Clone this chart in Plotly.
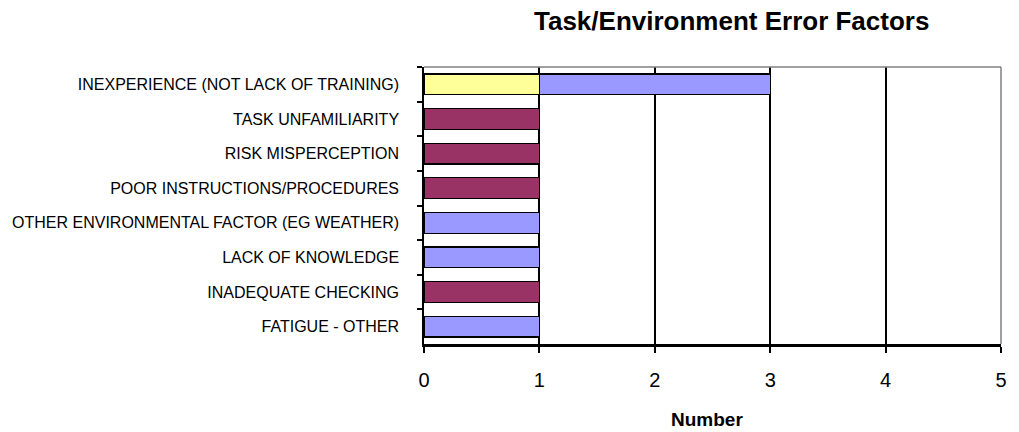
import plotly.graph_objects as go

categories = [
    "INEXPERIENCE (NOT LACK OF TRAINING)",
    "TASK UNFAMILIARITY",
    "RISK MISPERCEPTION",
    "POOR INSTRUCTIONS/PROCEDURES",
    "OTHER ENVIRONMENTAL FACTOR (EG WEATHER)",
    "LACK OF KNOWLEDGE",
    "INADEQUATE CHECKING",
    "FATIGUE - OTHER",
]
series_yellow = [1, 0, 0, 0, 0, 0, 0, 0]
series_maroon = [0, 1, 1, 1, 0, 0, 1, 0]
series_blue = [2, 0, 0, 0, 1, 1, 0, 1]
x_ticks = [0, 1, 2, 3, 4, 5]

FONT = "Liberation Sans, Arial, sans-serif"

fig = go.Figure()
for name, vals, color in [
    ("Series 1", series_yellow, "#FFFF99"),
    ("Series 2", series_maroon, "#993366"),
    ("Series 3", series_blue, "#9999FF"),
]:
    fig.add_trace(go.Bar(
        y=categories, x=vals, name=name, orientation="h",
        marker=dict(color=color, line=dict(color="black", width=1.2)),
        width=0.6,
    ))

fig.update_layout(
    barmode="stack",
    width=1019, height=432,
    margin=dict(l=423, r=12, t=67, b=88),
    paper_bgcolor="white", plot_bgcolor="white",
    showlegend=False,
    font=dict(family=FONT, color="black"),
    xaxis=dict(
        range=[0, 5], tickvals=x_ticks, ticktext=[str(v) for v in x_ticks],
        showgrid=True, gridcolor="black", gridwidth=1.5,
        zeroline=False,
        showline=True, linecolor="black", linewidth=3,
        ticks="outside", ticklen=6, tickwidth=1.5, tickcolor="black",
        tickfont=dict(size=20, family=FONT),
        ticklabelstandoff=10,
    ),
    yaxis=dict(
        type="category", categoryorder="array", categoryarray=categories,
        autorange="reversed",
        showgrid=False, zeroline=False,
        showline=True, linecolor="black", linewidth=1.5,
        ticks="outside", tickson="boundaries", ticklen=5, tickwidth=1.5, tickcolor="black",
        tickfont=dict(size=16, family=FONT),
        ticklabelstandoff=20,
    ),
    shapes=[
        dict(type="line", xref="paper", yref="paper", x0=0, x1=1, y0=1, y1=1,
             line=dict(color="#808080", width=1.5), layer="above"),
        dict(type="line", xref="paper", yref="paper", x0=1, x1=1, y0=0, y1=1,
             line=dict(color="#808080", width=1.5), layer="above"),
    ],
    annotations=[
        dict(text="<b>Task/Environment Error Factors</b>", xref="paper", yref="paper",
             x=(734 - 423) / (1007 - 423), y=1 + (67 - 21) / 277, xanchor="center", yanchor="middle",
             showarrow=False, font=dict(size=26, family=FONT)),
        dict(text="<b>Number</b>", xref="paper", yref="paper",
             x=(709 - 423) / (1007 - 423), y=-(419 - 344) / 277, xanchor="center", yanchor="middle",
             showarrow=False, font=dict(size=19, family=FONT)),
    ],
)

fig.write_html(
    "out.html",
    config={"displayModeBar": False},
    post_script="document.body.style.margin='0';document.body.style.overflow='hidden';",
)
